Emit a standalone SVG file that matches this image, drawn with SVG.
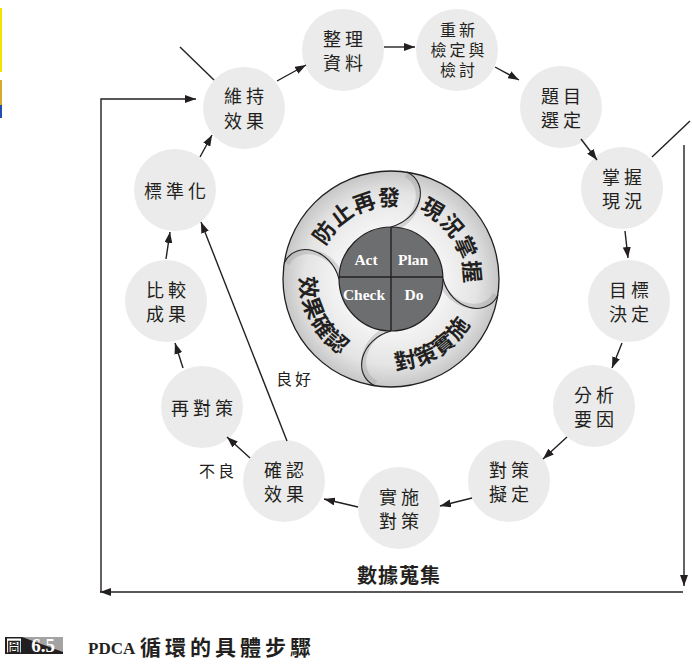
<svg xmlns="http://www.w3.org/2000/svg" width="692" height="668" viewBox="0 0 692 668">
<defs>
<style>
.bg{fill:#ffffff}
.node circle{fill:#ebebeb}
.node text{font-family:"Noto Sans CJK TC","Noto Sans CJK SC",sans-serif;font-size:18px;fill:#231f20;text-anchor:middle;dominant-baseline:central;letter-spacing:4px}
.edge{stroke:#231f20;stroke-width:1.4;fill:none}
.arr{marker-end:url(#ah)}
.lbl{font-family:"Noto Sans CJK TC",sans-serif;font-size:16px;fill:#231f20;text-anchor:middle;dominant-baseline:central;letter-spacing:3px}
.pet{font-family:"Noto Sans CJK TC",sans-serif;font-size:22px;font-weight:700;fill:#231f20;letter-spacing:1px}
.pdca{font-family:"Liberation Serif",serif;font-size:15.5px;font-weight:700;fill:#ffffff;text-anchor:middle;dominant-baseline:central}
.curve{stroke:#231f20;stroke-width:1.1;fill:none}
.shade{stroke:#9a9a9a;stroke-width:5;fill:none;opacity:0.35}
</style>
<marker id="ah" markerUnits="userSpaceOnUse" markerWidth="11" markerHeight="8" refX="11" refY="4" orient="auto">
<path d="M0,0 L11,4 L0,8 z" fill="#231f20"/>
</marker>
<radialGradient id="ring" cx="391" cy="279" r="108" gradientUnits="userSpaceOnUse">
<stop offset="0.48" stop-color="#f4f4f4"/>
<stop offset="0.8" stop-color="#e4e4e4"/>
<stop offset="1" stop-color="#c6c6c6"/>
</radialGradient>
<path id="tp1" d="M324.8,314.2 A75,75 0 0 1 457.2,243.8"/>
<path id="tp2" d="M351.3,215.4 A75,75 0 0 1 430.7,342.6"/>
<path id="tp3" d="M313.8,327.2 A91,91 0 0 0 468.2,230.8"/>
<path id="tp4" d="M348.3,198.6 A91,91 0 0 0 433.7,359.4"/>
</defs>
<rect class="bg" x="0" y="0" width="692" height="668"/>
<g id="edge-strip">
<rect x="0" y="8" width="2" height="64" fill="#f3e500"/>
<rect x="0" y="80" width="2" height="25" fill="#d8a930"/>
<rect x="0" y="105" width="2" height="13" fill="#1f4fb0"/>
</g>

<g id="pdca-wheel">
<circle cx="391" cy="279" r="108" fill="url(#ring)" stroke="#231f20" stroke-width="1.3"/>
<g id="petal-curves">
<path class="shade" d="M391,230 C419,222 428,186 406,175"/>
<path class="shade" d="M391,230 C419,222 428,186 406,175" transform="rotate(90 391 279)"/>
<path class="shade" d="M391,230 C419,222 428,186 406,175" transform="rotate(180 391 279)"/>
<path class="shade" d="M391,230 C419,222 428,186 406,175" transform="rotate(270 391 279)"/>
<path class="curve" d="M391,227 C421,219 431,184 407,172"/>
<path class="curve" d="M391,227 C421,219 431,184 407,172" transform="rotate(90 391 279)"/>
<path class="curve" d="M391,227 C421,219 431,184 407,172" transform="rotate(180 391 279)"/>
<path class="curve" d="M391,227 C421,219 431,184 407,172" transform="rotate(270 391 279)"/>
</g>
<text class="pet"><textPath href="#tp1" startOffset="50%" text-anchor="middle">防止再發</textPath></text>
<text class="pet"><textPath href="#tp2" startOffset="50%" text-anchor="middle">現況掌握</textPath></text>
<text class="pet"><textPath href="#tp3" startOffset="50%" text-anchor="middle">對策實施</textPath></text>
<text class="pet"><textPath href="#tp4" startOffset="50%" text-anchor="middle">效果確認</textPath></text>
<circle cx="391" cy="279" r="52" fill="#6d6e70" stroke="#231f20" stroke-width="1.2"/>
<line x1="391" y1="227" x2="391" y2="331" stroke="#231f20" stroke-width="1.4"/>
<line x1="339" y1="277" x2="443" y2="277" stroke="#231f20" stroke-width="1.4"/>
<text class="pdca" x="366" y="259">Act</text>
<text class="pdca" x="413" y="259">Plan</text>
<text class="pdca" x="364" y="294">Check</text>
<text class="pdca" x="414" y="294">Do</text>
</g>

<g id="n1" class="node"><circle cx="343" cy="50" r="41"/><text x="345" y="38">整理</text><text x="345" y="62">資料</text></g>
<g id="n2" class="node"><circle cx="457" cy="50" r="41"/><text x="459" y="29" style="font-size:16px;letter-spacing:3px">重新</text><text x="459" y="49" style="font-size:16px;letter-spacing:3px">檢定與</text><text x="459" y="69" style="font-size:16px;letter-spacing:3px">檢討</text></g>
<g id="n3" class="node"><circle cx="561" cy="107" r="41"/><text x="563" y="95">題目</text><text x="563" y="119">選定</text></g>
<g id="n4" class="node"><circle cx="622" cy="188" r="41"/><text x="624" y="176">掌握</text><text x="624" y="200">現況</text></g>
<g id="n5" class="node"><circle cx="629" cy="301" r="41"/><text x="631" y="289">目標</text><text x="631" y="313">決定</text></g>
<g id="n6" class="node"><circle cx="594" cy="406" r="41"/><text x="596" y="394">分析</text><text x="596" y="418">要因</text></g>
<g id="n7" class="node"><circle cx="509" cy="481" r="41"/><text x="511" y="469">對策</text><text x="511" y="493">擬定</text></g>
<g id="n8" class="node"><circle cx="399" cy="508" r="41"/><text x="401" y="496">實施</text><text x="401" y="520">對策</text></g>
<g id="n9" class="node"><circle cx="284" cy="481" r="41"/><text x="286" y="469">確認</text><text x="286" y="493">效果</text></g>
<g id="n10" class="node"><circle cx="202" cy="407" r="41"/><text x="204" y="407">再對策</text></g>
<g id="n11" class="node"><circle cx="166" cy="301" r="41"/><text x="168" y="289">比較</text><text x="168" y="313">成果</text></g>
<g id="n12" class="node"><circle cx="175" cy="190" r="41"/><text x="177" y="190">標準化</text></g>
<g id="n13" class="node"><circle cx="244" cy="108" r="41"/><text x="246" y="95">維持</text><text x="246" y="120">效果</text></g>

<g id="connectors">
<line class="edge arr" x1="277" y1="81" x2="306" y2="65"/>
<line class="edge arr" x1="384" y1="47" x2="415" y2="47"/>
<line class="edge arr" x1="495" y1="67" x2="519" y2="80"/>
<line class="edge arr" x1="581" y1="139" x2="597" y2="160"/>
<line class="edge arr" x1="625" y1="231" x2="628" y2="258"/>
<line class="edge arr" x1="622" y1="343" x2="612" y2="368"/>
<line class="edge arr" x1="567" y1="437" x2="543" y2="459"/>
<line class="edge arr" x1="472" y1="498" x2="440" y2="506"/>
<line class="edge arr" x1="358" y1="507" x2="324" y2="499"/>
<line class="edge arr" x1="250" y1="458" x2="227" y2="437"/>
<line class="edge arr" x1="287" y1="441" x2="201" y2="222"/>
<line class="edge arr" x1="183" y1="368" x2="175" y2="343"/>
<line class="edge arr" x1="166" y1="259" x2="170" y2="232"/>
<line class="edge arr" x1="200" y1="157" x2="212" y2="135"/>
<line class="edge" x1="180" y1="47" x2="214" y2="80"/>
<line class="edge" x1="652" y1="157" x2="690" y2="121"/>
<polyline class="edge arr" points="101,592 101,99 196,99"/>
<line class="edge arr" x1="684" y1="145" x2="684" y2="586"/>
<line class="edge arr" x1="683" y1="592" x2="100" y2="592"/>
</g>

<g id="labels">
<text class="lbl" x="295" y="378">良好</text>
<text class="lbl" x="218" y="470">不良</text>
<text x="399" y="574" style="font-family:'Noto Sans CJK TC',sans-serif;font-size:20px;font-weight:700;fill:#231f20;text-anchor:middle;dominant-baseline:central;letter-spacing:1px">數據蒐集</text>
</g>

<g id="caption">
<rect x="5" y="637" width="58" height="17" fill="#a3a3a3"/>
<polygon points="5,637 22,637 63,652 63,654 5,654" fill="#231f20"/>
<rect x="7" y="638.5" width="14" height="14" fill="#ffffff"/>
<text x="14" y="646" style="font-family:'Noto Sans CJK TC',sans-serif;font-size:14px;font-weight:700;fill:#231f20;text-anchor:middle;dominant-baseline:central">圖</text>
<text x="43" y="652" style="font-family:'Liberation Serif',serif;font-size:19px;font-weight:700;fill:#ffffff;text-anchor:middle">6.5</text>
<text x="88" y="654" style="font-family:'Liberation Serif',serif;font-size:17px;font-weight:700;fill:#231f20">PDCA</text>
<text x="140" y="655" style="font-family:'Liberation Serif','Noto Sans CJK TC',serif;font-size:21px;font-weight:700;fill:#231f20;letter-spacing:4px">循環的具體步驟</text>
</g>
</svg>
